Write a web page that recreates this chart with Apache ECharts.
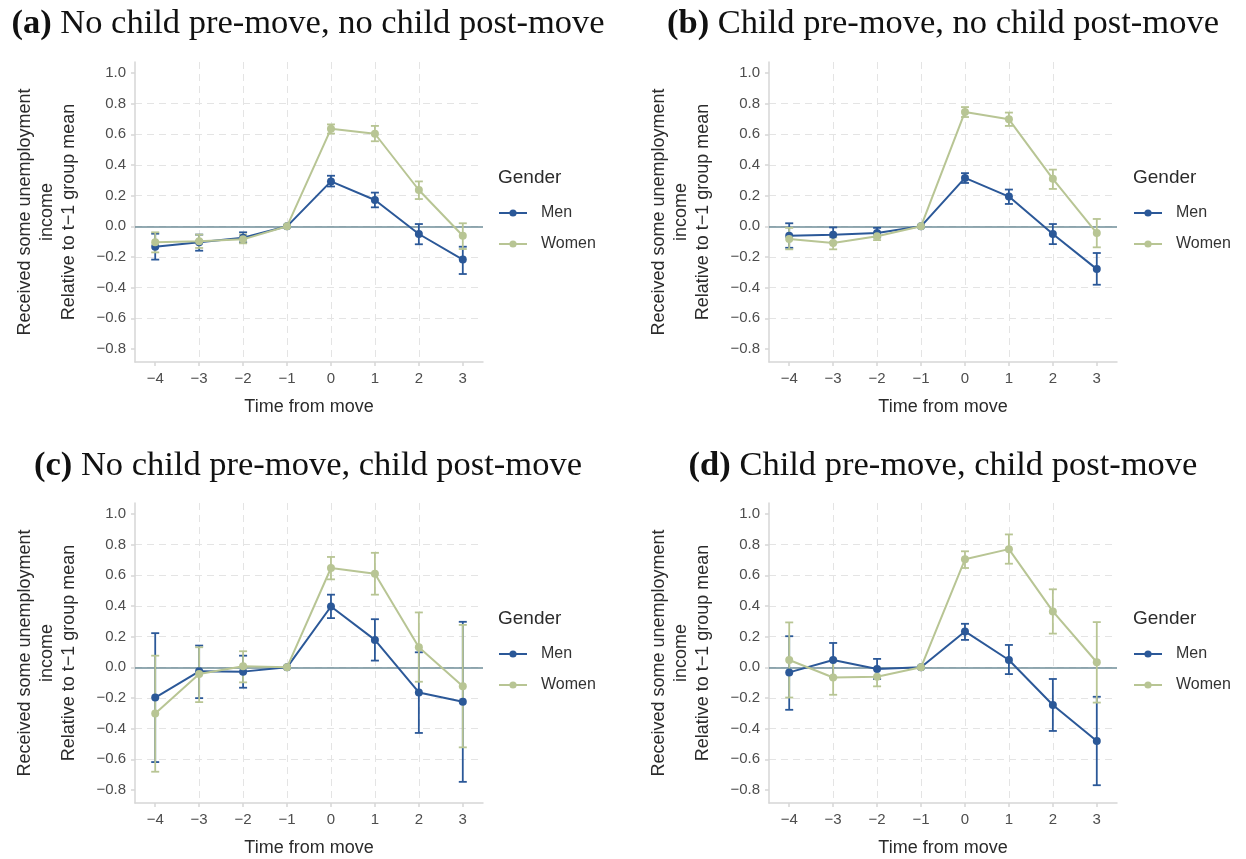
<!DOCTYPE html>
<html><head><meta charset="utf-8">
<script src="https://cdn.jsdelivr.net/npm/echarts@6/dist/echarts.min.js"></script>
<style>html,body{margin:0;padding:0;background:#fff}#c{width:1246px;height:859px}</style>
</head><body><div id="c"></div>
<script>
const xs = [-4, -3, -2, -1, 0, 1, 2, 3];
const yTicks = [-0.8, -0.6, -0.4, -0.2, 0, 0.2, 0.4, 0.6, 0.8, 1.0];
const panelTitles = ['No child pre-move, no child post-move', 'Child pre-move, no child post-move', 'No child pre-move, child post-move', 'Child pre-move, child post-move'];
const panelTags = ['(a)', '(b)', '(c)', '(d)'];
const genders = ['Men', 'Women'];

// Panel (a)
const menA = [-0.133, -0.104, -0.074, 0, 0.293, 0.172, -0.05, -0.217];
const menALo = [-0.217, -0.159, -0.104, 0, 0.26, 0.124, -0.117, -0.311];
const menAHi = [-0.048, -0.054, -0.039, 0, 0.33, 0.22, 0.015, -0.133];
const womenA = [-0.104, -0.098, -0.085, 0, 0.636, 0.604, 0.237, -0.061];
const womenALo = [-0.17, -0.141, -0.111, 0, 0.605, 0.555, 0.178, -0.148];
const womenAHi = [-0.039, -0.054, -0.054, 0, 0.665, 0.655, 0.293, 0.02];
// Panel (b)
const menB = [-0.061, -0.055, -0.044, 0, 0.316, 0.194, -0.05, -0.279];
const menBLo = [-0.14, -0.105, -0.072, 0, 0.283, 0.146, -0.116, -0.381];
const menBHi = [0.02, -0.007, -0.01, 0, 0.347, 0.24, 0.015, -0.174];
const womenB = [-0.083, -0.109, -0.065, 0, 0.746, 0.698, 0.31, -0.044];
const womenBLo = [-0.15, -0.15, -0.09, 0, 0.713, 0.655, 0.244, -0.137];
const womenBHi = [-0.01, -0.072, -0.04, 0, 0.778, 0.742, 0.37, 0.048];
// Panel (c)
const menC = [-0.197, -0.026, -0.028, 0, 0.397, 0.179, -0.164, -0.225];
const menCLo = [-0.618, -0.201, -0.133, 0, 0.321, 0.044, -0.428, -0.747];
const menCHi = [0.223, 0.142, 0.076, 0, 0.474, 0.314, 0.098, 0.297];
const womenC = [-0.301, -0.044, 0.007, 0, 0.648, 0.611, 0.131, -0.124];
const womenCLo = [-0.681, -0.227, -0.098, 0, 0.574, 0.474, -0.094, -0.522];
const womenCHi = [0.076, 0.131, 0.105, 0, 0.72, 0.747, 0.358, 0.277];
// Panel (d)
const menD = [-0.033, 0.048, -0.011, 0, 0.234, 0.048, -0.246, -0.48];
const menDLo = [-0.277, -0.066, -0.076, 0, 0.179, -0.044, -0.415, -0.769];
const menDHi = [0.203, 0.159, 0.055, 0, 0.284, 0.146, -0.076, -0.192];
const womenD = [0.048, -0.066, -0.061, 0, 0.705, 0.771, 0.365, 0.033];
const womenDLo = [-0.197, -0.179, -0.124, 0, 0.648, 0.676, 0.22, -0.23];
const womenDHi = [0.293, 0.05, -0.005, 0, 0.757, 0.867, 0.509, 0.295];

const panels = [
  {men: menA, menLo: menALo, menHi: menAHi, women: womenA, womenLo: womenALo, womenHi: womenAHi},
  {men: menB, menLo: menBLo, menHi: menBHi, women: womenB, womenLo: womenBLo, womenHi: womenBHi},
  {men: menC, menLo: menCLo, menHi: menCHi, women: womenC, womenLo: womenCLo, womenHi: womenCHi},
  {men: menD, menLo: menDLo, menHi: menDHi, women: womenD, womenLo: womenDLo, womenHi: womenDHi}
];

const COL = {Men: '#2B5898', Women: '#B8C594'};
const ZERO = '#6F8E99';
const SANS = '"Liberation Sans", Arial, sans-serif';
const SERIF = '"Liberation Serif", "DejaVu Serif", serif';
const layout = [
  {left: 135, top: 62, titleX: 308, titleY: 24, legX: 498},
  {left: 769, top: 62, titleX: 943, titleY: 24, legX: 1133},
  {left: 135, top: 503, titleX: 308, titleY: 466, legX: 498},
  {left: 769, top: 503, titleX: 943, titleY: 466, legX: 1133}
];
const W = 348, H = 300;
const fmtMinus = v => String(v).replace('-', '\u2212');

const grid = [], xAxis = [], yAxis = [], series = [], legend = [], graphic = [];
layout.forEach((L, i) => {
  grid.push({left: L.left, top: L.top, width: W, height: H});
  xAxis.push({
    type: 'value', gridIndex: i, min: -4.46, max: 3.46, splitNumber: 8,
    name: 'Time from move', nameLocation: 'middle', nameGap: 36,
    nameTextStyle: {fontFamily: SANS, fontSize: 18, color: '#2b2b2b'},
    axisLine: {show: true, onZero: false, lineStyle: {color: '#d6d6d6', width: 1.5}},
    axisTick: {show: true, length: 4, customValues: xs, lineStyle: {color: '#d6d6d6', width: 1.5}},
    axisLabel: {customValues: xs, margin: 9, fontFamily: SANS, fontSize: 15, color: '#4d4d4d', formatter: v => fmtMinus(Math.round(v))},
    splitLine: {show: true, showMinLine: false, showMaxLine: false, lineStyle: {color: '#e4e4e4', width: 1, type: [7, 5]}}
  });
  yAxis.push({
    type: 'value', gridIndex: i, min: -0.885, max: 1.072, splitNumber: 10,
    name: 'Received some unemployment\nincome\nRelative to t\u22121 group mean',
    nameLocation: 'middle', nameRotate: 90, nameGap: 55,
    nameTextStyle: {fontFamily: SANS, fontSize: 18, lineHeight: 22, color: '#2b2b2b', align: 'center'},
    axisLine: {show: true, onZero: false, lineStyle: {color: '#d6d6d6', width: 1.5}},
    axisTick: {show: true, length: 4, customValues: yTicks, lineStyle: {color: '#d6d6d6', width: 1.5}},
    axisLabel: {customValues: yTicks, margin: 9, fontFamily: SANS, fontSize: 15, color: '#4d4d4d', formatter: v => fmtMinus(v.toFixed(1))},
    splitLine: {show: true, showMinLine: false, showMaxLine: false, lineStyle: {color: '#e4e4e4', width: 1, type: [7, 5]}}
  });
  const P = panels[i];
  genders.forEach((g, gi) => {
    const key = g === 'Men' ? 'men' : 'women';
    const lo = P[key + 'Lo'], hi = P[key + 'Hi'];
    const errSeries = {
      type: 'custom', name: g + ' CI', xAxisIndex: i, yAxisIndex: i, z: 2 + gi * 0.1, silent: true,
      data: xs.map((x, k) => [x, lo[k], hi[k]]),
      encode: {x: 0, y: [1, 2]},
      renderItem: function (params, api) {
        const x = api.value(0);
        const p1 = api.coord([x, api.value(1)]);
        const p2 = api.coord([x, api.value(2)]);
        const hw = 4;
        const st = {stroke: COL[g], lineWidth: 1.8};
        return {type: 'group', children: [
          {type: 'line', shape: {x1: p1[0], y1: p1[1], x2: p2[0], y2: p2[1]}, style: st},
          {type: 'line', shape: {x1: p1[0] - hw, y1: p1[1], x2: p1[0] + hw, y2: p1[1]}, style: st},
          {type: 'line', shape: {x1: p2[0] - hw, y1: p2[1], x2: p2[0] + hw, y2: p2[1]}, style: st}
        ]};
      }
    };
    if (gi === 0) {
      errSeries.markLine = {silent: true, symbol: 'none', label: {show: false}, z: 1,
        lineStyle: {color: ZERO, width: 1.6, type: 'solid'}, data: [{yAxis: 0}]};
    }
    series.push(errSeries);
  });
  genders.forEach((g, gi) => {
    const key = g === 'Men' ? 'men' : 'women';
    series.push({
      type: 'line', name: g, xAxisIndex: i, yAxisIndex: i, z: 3 + gi * 0.1,
      data: xs.map((x, k) => [x, P[key][k]]),
      symbol: 'circle', symbolSize: 8, showSymbol: true,
      lineStyle: {color: COL[g], width: 2}, itemStyle: {color: COL[g]},
      animation: false
    });
  });
  legend.push({
    data: genders, left: L.legX, top: L.top + 143, orient: 'vertical', padding: 0,
    itemWidth: 28, itemHeight: 9, itemGap: 15, selectedMode: false,
    textStyle: {fontFamily: SANS, fontSize: 16, color: '#333', padding: [0, 0, 0, 9]}
  });
  graphic.push({type: 'text', x: L.legX, y: L.top + 116, style: {text: 'Gender', font: '19px ' + SANS, fill: '#2b2b2b', textVerticalAlign: 'middle'}});
  graphic.push({type: 'text', x: L.titleX, y: L.titleY, style: {
    text: '{b|' + panelTags[i] + '} ' + panelTitles[i],
    fontFamily: SERIF, fontSize: 34.5, fill: '#111', textAlign: 'center', textVerticalAlign: 'middle',
    rich: {b: {fontFamily: SERIF, fontSize: 34.5, fontWeight: 'bold', fill: '#111'}}
  }});
});

const chart = echarts.init(document.getElementById('c'), null, {renderer: 'canvas'});
chart.setOption({animation: false, backgroundColor: '#fff', grid, xAxis, yAxis, series, legend, graphic});
</script></body></html>
